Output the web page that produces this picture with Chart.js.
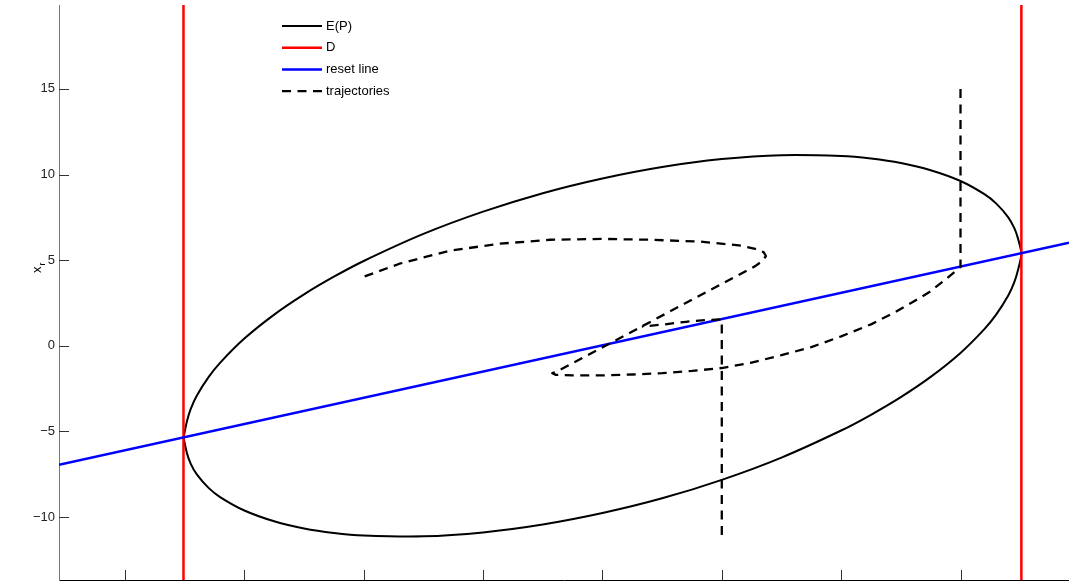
<!DOCTYPE html>
<html>
<head>
<meta charset="utf-8">
<script src="https://cdn.jsdelivr.net/npm/chart.js@4.4.1/dist/chart.umd.min.js"></script>
<style>
  html, body { margin: 0; padding: 0; background: #fff; }
  #wrap { width: 1069px; height: 583px; }
</style>
</head>
<body>
<div id="wrap"><canvas id="plot" width="1069" height="583"></canvas></div>
<script>
// axis ticks (x has no labels in the figure)
const xTicks = [-4, -3, -2, -1, 0, 1, 2, 3]
const yTicks = [-10, -5, 0, 5, 10, 15]

// ellipse E(P) (closed loop)
const ellipseX = [-3.51, -3.48, -3.45, -3.4, -3.3, -3.2, -3.0, -2.75, -2.5, -2.25, -2.0, -1.5, -1.0, -0.5, 0, 0.5, 1.0, 1.5, 2.0, 2.25, 2.5, 2.75, 3.0, 3.2, 3.3, 3.4, 3.45, 3.48, 3.51,
                  3.48, 3.45, 3.4, 3.3, 3.2, 3.0, 2.75, 2.5, 2.25, 2.0, 1.5, 1.0, 0.5, 0, -0.5, -1.0, -1.5, -2.0, -2.25, -2.5, -2.75, -3.0, -3.2, -3.3, -3.4, -3.45, -3.48, -3.51]
const ellipseY = [-5.37, -4.38, -3.70, -2.93, -1.83, -0.97, 0.42, 1.82, 3.00, 4.03, 4.95, 6.53, 7.83, 8.91, 9.77, 10.44, 10.90, 11.13, 11.08, 10.93, 10.67, 10.25, 9.62, 8.85, 8.30, 7.50, 6.88, 6.30, 5.37,
                  4.38, 3.70, 2.93, 1.83, 0.97, -0.42, -1.82, -3.00, -4.03, -4.95, -6.53, -7.83, -8.91, -9.77, -10.44, -10.90, -11.13, -11.08, -10.93, -10.67, -10.25, -9.62, -8.85, -8.30, -7.50, -6.88, -6.30, -5.37]

// D boundaries
const dX = [-3.51, -3.51, null, 3.51, 3.51]
const dY = [-14, 20, null, -14, 20]

// reset line
const resetX = [-4.553, 3.909]
const resetY = [-6.95, 6.02]

// trajectories (null = break)
const trajX = [1.0, 1.0, 0.86, 0.7, 0.52, 0.33, null,
               3.0, 3.0, 2.87, 2.74, 2.6, 2.45, 2.25, 2.0, 1.75, 1.5, 1.24, 1.0, 0.75, 0.5, 0.25, 0.0, -0.25, -0.39, -0.42, -0.38,
               1.28, 1.34, 1.37, 1.35, 1.28, 1.16, 0.82, 0.4, 0.0, -0.44, -0.86, -1.28, -1.7, -2.0]
const trajY = [-11.05, 1.54, 1.50, 1.40, 1.25, 1.12, null,
               15.0, 4.6, 3.85, 3.14, 2.55, 1.95, 1.25, 0.55, -0.08, -0.55, -1.0, -1.30, -1.47, -1.6, -1.68, -1.73, -1.73, -1.70, -1.60, -1.50,
               4.65, 4.95, 5.24, 5.47, 5.66, 5.85, 6.08, 6.19, 6.24, 6.19, 5.96, 5.55, 4.79, 4.03]

const toPoints = (xs, ys) => xs.map((x, i) => (x === null ? { x: null, y: null } : { x: x, y: ys[i] }))

const FONT = "'Liberation Sans', Arial, Helvetica, sans-serif"

const decor = {
    id: 'decor',
    afterDraw(chart) {
        const ctx = chart.ctx
        const area = chart.chartArea
        const xs = chart.scales.x
        const ys = chart.scales.y

        // inner tick marks
        ctx.save()
        ctx.strokeStyle = '#333'
        ctx.lineWidth = 1
        ctx.beginPath()
        yTicks.forEach(v => {
            const py = Math.round(ys.getPixelForValue(v)) + 0.5
            ctx.moveTo(area.left, py)
            ctx.lineTo(area.left + 10, py)
        })
        xTicks.forEach(v => {
            const px = Math.round(xs.getPixelForValue(v)) + 0.5
            ctx.moveTo(px, area.bottom)
            ctx.lineTo(px, area.bottom - 10)
        })
        ctx.stroke()
        ctx.restore()

        // legend inside the plot
        const order = [0, 1, 2, 3]
        ctx.save()
        ctx.font = '13px ' + FONT
        ctx.textBaseline = 'middle'
        order.forEach((idx, row) => {
            const ds = chart.data.datasets[idx]
            const y = 26 + row * 21.7
            ctx.strokeStyle = ds.borderColor
            ctx.lineWidth = ds.borderWidth
            ctx.setLineDash(ds.borderDash || [])
            ctx.beginPath()
            ctx.moveTo(282, y)
            ctx.lineTo(322, y)
            ctx.stroke()
            ctx.setLineDash([])
            ctx.fillStyle = '#000'
            ctx.fillText(ds.label, 326, y)
        })
        ctx.restore()

        // y axis title x_r
        ctx.save()
        ctx.translate(41, 273)
        ctx.rotate(-Math.PI / 2)
        ctx.fillStyle = '#000'
        ctx.font = '13px ' + FONT
        ctx.textBaseline = 'alphabetic'
        ctx.fillText('x', 0, 0)
        ctx.font = '9px ' + FONT
        ctx.fillText('r', 7.5, 3.5)
        ctx.restore()
    }
}

new Chart(
    document.getElementById('plot'),
    {
        type: 'scatter',
        data: {
            datasets: [
                {
                    label: 'E(P)',
                    data: toPoints(ellipseX, ellipseY),
                    showLine: true,
                    borderColor: '#000000',
                    borderWidth: 2,
                    tension: 0.25,
                    order: 4
                },
                {
                    label: 'D',
                    data: toPoints(dX, dY),
                    showLine: true,
                    borderColor: '#ff0000',
                    borderWidth: 2.5,
                    spanGaps: false,
                    order: 3
                },
                {
                    label: 'reset line',
                    data: toPoints(resetX, resetY),
                    showLine: true,
                    borderColor: '#0000ff',
                    borderWidth: 2.5,
                    order: 2
                },
                {
                    label: 'trajectories',
                    data: toPoints(trajX, trajY),
                    showLine: true,
                    borderColor: '#000000',
                    borderWidth: 2.3,
                    borderDash: [9, 6.5],
                    spanGaps: false,
                    order: 1
                }
            ]
        },
        options: {
            responsive: false,
            animation: false,
            devicePixelRatio: 1,
            elements: {
                point: { radius: 0, hoverRadius: 0 },
                line: { tension: 0, borderCapStyle: 'butt', borderJoinStyle: 'round' }
            },
            layout: {
                padding: { left: 0, right: 0, top: 5, bottom: 0 }
            },
            plugins: {
                legend: { display: false },
                tooltip: { enabled: false }
            },
            scales: {
                x: {
                    type: 'linear',
                    position: 'bottom',
                    min: -4.553,
                    max: 3.909,
                    afterFit: s => {
                        s.height = 3
                        s.paddingLeft = 0
                        s.paddingRight = 0
                    },
                    ticks: { display: false },
                    grid: { display: true, drawOnChartArea: false, drawTicks: false },
                    border: { display: true, color: '#000', width: 1 }
                },
                y: {
                    type: 'linear',
                    position: 'left',
                    min: -13.68,
                    max: 19.9,
                    afterFit: s => {
                        s.width = 59
                        s.paddingTop = 0
                        s.paddingBottom = 0
                    },
                    afterBuildTicks: s => { s.ticks = yTicks.map(v => ({ value: v })) },
                    ticks: {
                        padding: 4,
                        color: '#222',
                        font: { family: FONT, size: 13 },
                        callback: v => String(v).replace('-', '\u2212')
                    },
                    grid: { display: true, drawOnChartArea: false, drawTicks: false },
                    border: { display: true, color: '#777', width: 1 }
                }
            }
        },
        plugins: [decor]
    }
)
</script>
</body>
</html>
